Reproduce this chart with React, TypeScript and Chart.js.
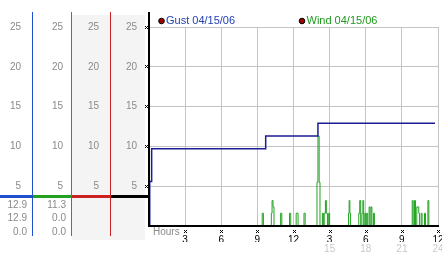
import React, { useEffect, useRef } from "react";
import { Chart, registerables } from "chart.js";

Chart.register(...registerables);

// ---- data ----
const seriesNames = ["Gust 04/15/06", "Wind 04/15/06"];
const gustHours = [0, 0.06, 0.22, 9.69, 14.03, 23.75];
const gustValues = [0, 5.6, 9.7, 11.3, 12.9, 12.9];
const windHours = [
  0, 9.4, 9.5,
  10.16, 10.22, 10.3, 10.38,
  10.93, 11.03,
  11.67, 11.77,
  12.22, 12.38,
  12.87, 12.97,
  13.95, 14.03, 14.13, 14.2,
  14.4, 14.48, 14.55, 14.65, 14.73, 14.82, 14.92, 15.0,
  16.57, 16.62, 16.68, 16.74,
  17.42, 17.5, 17.58, 17.68, 17.76, 17.83, 17.92, 18.0, 18.08, 18.16, 18.28, 18.35, 18.44, 18.51, 18.64, 18.72,
  21.86, 21.94, 22.05, 22.13, 22.24, 22.4, 22.46, 22.6, 22.68, 22.88, 22.96, 23.16, 23.24,
  23.75,
];
const windValues = [
  0, 1.6, 0,
  1.6, 3.2, 2.4, 0,
  1.6, 0,
  1.6, 0,
  1.6, 0,
  1.6, 0,
  5.5, 11.3, 5.5, 0,
  1.6, 0, 1.6, 3.2, 1.6, 0, 1.6, 0,
  1.6, 3.2, 1.6, 0,
  1.6, 3.2, 0, 1.6, 3.2, 0, 1.6, 0, 1.6, 0, 2.4, 0, 2.4, 0, 1.6, 0,
  3.2, 0, 3.2, 0, 2.4, 1.6, 0, 1.6, 0, 1.6, 0, 3.2, 0,
  0,
];
const yTicks = [5, 10, 15, 20, 25];
const xTicks = [0, 3, 6, 9, 12, 15, 18, 21, 24];

// ---- styles ----
const FONT = "'Liberation Sans', Arial, sans-serif";
const GUST_LINE = "#1c1c96";
const WIND_LINE = "#22a322";
const COL_BLUE = "#2050d0";
const COL_GREEN = "#22a022";
const COL_RED = "#cc2222";
const LABEL_GREY = "#8a8a8a";
const GRID = "#c4c4c4";
const PANEL_BG = "#f4f4f4";
const SEP_Y = 196.5;

const yTickCb = (v: any) => (yTicks.includes(Number(v)) ? String(v) : "");

function colAxis(weight: number, width: number, pad: number) {
  return {
    type: "linear" as const,
    position: "left" as const,
    weight,
    min: 0,
    max: 25,
    grid: { display: false, drawTicks: false },
    border: { display: false },
    ticks: {
      stepSize: 5,
      padding: pad,
      color: LABEL_GREY,
      font: { family: FONT, size: 10 },
      callback: yTickCb,
    },
    afterFit(s: any) {
      s.width = width;
    },
  };
}

const stat = (arr: number[]) => ({
  max: Math.max(...arr),
  last: arr[arr.length - 1],
  min: Math.min(...arr),
});

const decor = {
  id: "decor",
  beforeDraw(chart: any) {
    const ctx = chart.ctx;
    const s = chart.scales;
    ctx.save();
    ctx.fillStyle = PANEL_BG;
    ctx.fillRect(s.yRed.left, 15, s.yRed.width, 225);
    ctx.fillRect(s.y.left, 15, s.y.width - 4, 225);
    ctx.restore();
  },
  afterDraw(chart: any) {
    const ctx = chart.ctx;
    const s = chart.scales;
    const ca = chart.chartArea;
    ctx.save();
    const cols = [
      [s.yBlue, COL_BLUE],
      [s.yGreen, COL_GREEN],
      [s.yRed, COL_RED],
    ];
    ctx.lineWidth = 1;
    for (const [ax, c] of cols) {
      ctx.strokeStyle = c;
      const x = Math.round(ax.right) - 0.5;
      ctx.beginPath();
      ctx.moveTo(x, 12);
      ctx.lineTo(x, 236);
      ctx.stroke();
    }
    ctx.lineWidth = 3;
    const segs = [
      [s.yBlue.left, s.yBlue.right, COL_BLUE],
      [s.yGreen.left, s.yGreen.right, COL_GREEN],
      [s.yRed.left, s.yRed.right, COL_RED],
      [s.y.left, ca.left, "#000"],
    ];
    for (const [a, b, c] of segs) {
      ctx.strokeStyle = c;
      ctx.beginPath();
      ctx.moveTo(a, SEP_Y);
      ctx.lineTo(b, SEP_Y);
      ctx.stroke();
    }
    ctx.strokeStyle = "#000";
    ctx.lineWidth = 2;
    ctx.beginPath();
    ctx.moveTo(ca.left, 12);
    ctx.lineTo(ca.left, ca.top + 1);
    ctx.stroke();

    ctx.fillStyle = "#000";
    const cross = (cx: number, cy: number) => {
      cx = Math.round(cx);
      cy = Math.round(cy);
      ctx.fillRect(cx - 1, cy - 1, 1, 1);
      ctx.fillRect(cx + 1, cy - 1, 1, 1);
      ctx.fillRect(cx, cy, 1, 1);
      ctx.fillRect(cx - 1, cy + 1, 1, 1);
      ctx.fillRect(cx + 1, cy + 1, 1, 1);
    };
    for (const v of yTicks) cross(ca.left - 3, s.y.getPixelForValue(v) - 0.5);
    for (const v of xTicks) if (v > 0) cross(s.x.getPixelForValue(v), ca.bottom + 5);

    ctx.fillStyle = LABEL_GREY;
    ctx.font = `10px ${FONT}`;
    ctx.textBaseline = "middle";
    ctx.textAlign = "left";
    ctx.fillText("Hours", ca.left + 4, ca.bottom + 6.5);

    const sets = [
      [s.yBlue, stat(gustValues)],
      [s.yGreen, stat(windValues)],
    ];
    ctx.textAlign = "right";
    for (const [ax, st] of sets) {
      const x = ax.right - 6;
      ctx.fillText(st.max.toFixed(1), x, 205);
      ctx.fillText(st.last.toFixed(1), x, 218.5);
      ctx.fillText(st.min.toFixed(1), x, 232.5);
    }

    const items = [
      [seriesNames[0], "#2040b4", ca.left + 12.5],
      [seriesNames[1], "#1f9a1f", ca.left + 153],
    ];
    ctx.font = `11px ${FONT}`;
    ctx.textAlign = "left";
    for (const [txt, col, x] of items) {
      ctx.beginPath();
      ctx.arc(x, 21, 2.8, 0, Math.PI * 2);
      ctx.fillStyle = "#a00000";
      ctx.fill();
      ctx.lineWidth = 1;
      ctx.strokeStyle = "#000";
      ctx.stroke();
      ctx.fillStyle = col;
      ctx.fillText(txt, x + 4.5, 20.5);
    }
    ctx.restore();
  },
};

export default function App() {
  const ref = useRef<HTMLCanvasElement | null>(null);
  useEffect(() => {
    document.body.style.margin = "0";
    const canvas = ref.current!;
    const chart = new Chart(canvas, {
      type: "line",
      data: {
        datasets: [
          {
            label: seriesNames[0],
            data: gustHours.map((h, i) => ({ x: h, y: gustValues[i] })),
            borderColor: GUST_LINE,
            borderWidth: 1.5,
            pointRadius: 0,
            stepped: true,
            yAxisID: "y",
            order: 1,
          },
          {
            label: seriesNames[1],
            data: windHours.map((h, i) => ({ x: h, y: windValues[i] })),
            borderColor: WIND_LINE,
            borderWidth: 1,
            pointRadius: 0,
            stepped: true,
            yAxisID: "y",
            order: 2,
          },
        ],
      },
      plugins: [decor],
      options: {
        animation: false,
        responsive: false,
        devicePixelRatio: 1,
        layout: { padding: { top: 27, right: 4, left: 0, bottom: 0 } },
        plugins: { legend: { display: false }, tooltip: { enabled: false } },
        scales: {
          x: {
            type: "linear",
            position: "bottom",
            min: 0,
            max: 24,
            afterBuildTicks(s: any) {
              s.ticks = xTicks.map((v) => ({ value: v }));
            },
            grid: { color: GRID, drawTicks: false },
            border: { color: "#000", width: 2, z: 1 },
            ticks: {
              padding: 8,
              maxRotation: 0,
              autoSkip: false,
              color: "#000",
              font: { family: FONT, size: 10 },
              callback: (v: any) => (Number(v) === 0 ? "" : String(Number(v) % 12 === 0 ? 12 : Number(v) % 12)),
            },
            afterFit(s: any) {
              s.height = 16;
              s.paddingLeft = 0;
              s.paddingRight = 0;
            },
          },
          x2: {
            type: "linear",
            position: "bottom",
            min: 0,
            max: 24,
            afterBuildTicks(s: any) {
              s.ticks = xTicks.map((v) => ({ value: v }));
            },
            grid: { display: false, drawTicks: false },
            border: { display: false },
            ticks: {
              padding: 1,
              maxRotation: 0,
              autoSkip: false,
              color: "#c8c8c8",
              font: { family: FONT, size: 10 },
              callback: (v: any) => (Number(v) >= 15 ? String(v) : ""),
            },
            afterFit(s: any) {
              s.height = 11;
              s.paddingLeft = 0;
              s.paddingRight = 0;
            },
          },
          y: {
            type: "linear",
            position: "left",
            weight: 1,
            min: 0,
            max: 25,
            grid: { color: GRID, drawTicks: false },
            border: { color: "#000", width: 2, z: 1 },
            ticks: {
              stepSize: 5,
              padding: 12,
              color: LABEL_GREY,
              font: { family: FONT, size: 10 },
              callback: yTickCb,
            },
            afterFit(s: any) {
              s.width = 38;
            },
          },
          yRed: colAxis(2, 39, 12),
          yGreen: colAxis(3, 39, 9),
          yBlue: colAxis(4, 33, 12),
        },
      } as any,
    });
    return () => chart.destroy();
  }, []);
  return (
    <div style={{ width: 442, height: 253 }}>
      <canvas ref={ref} width={442} height={253} style={{ display: "block" }} />
    </div>
  );
}
